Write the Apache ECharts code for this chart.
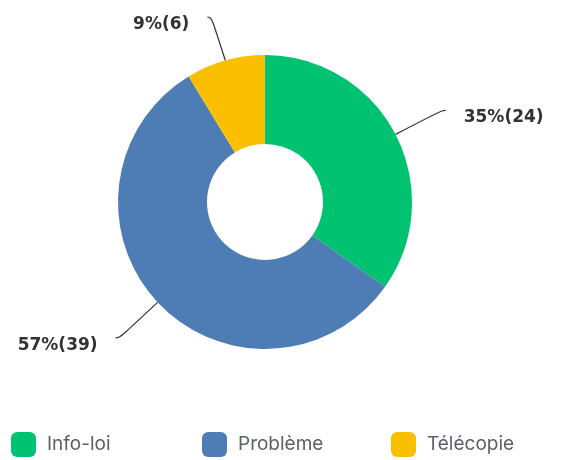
<!DOCTYPE html>
<html><head><meta charset="utf-8">
<script src="https://cdn.jsdelivr.net/npm/echarts@6/dist/echarts.min.js"></script>
<style>html,body{margin:0;padding:0;background:#fff}#c{width:561px;height:460px}</style>
</head><body><div id="c"></div>
<script>
const categories = ['Info-loi', 'Problème', 'Télécopie'];
const values = [24, 39, 6];
const colors = ['#00C271', '#4E7DB6', '#FABF00'];
const total = values.reduce((a, b) => a + b, 0);
const chart = echarts.init(document.getElementById('c'));
const legendLefts = [11, 202, 391];
chart.setOption({
  animation: false,
  color: colors,
  legend: categories.map((name, i) => ({
    data: [name], left: legendLefts[i], top: 432, padding: 0,
    itemWidth: 25, itemHeight: 25, itemGap: 0,
    icon: 'roundRect',
    textStyle: { fontFamily: 'Inter', fontSize: 19, color: '#5c6168', padding: [0, 0, 0, 6] }
  })),
  series: [{
    type: 'pie',
    center: [265, 202],
    radius: [58, 147],
    startAngle: 90,
    clockwise: true,
    data: categories.map((n, i) => ({ name: n, value: values[i] })),
    label: {
      show: true,
      position: 'outside',
      formatter: p => '\n' + Math.round(p.value / total * 100) + '%(' + p.value + ')',
      fontFamily: 'DejaVu Sans', fontWeight: 'bold', fontSize: 17, color: '#333',
      lineHeight: 15,
      distanceToLabelLine: 18
    },
    labelLine: { show: true, length: 52, length2: 4, smooth: 0.6, lineStyle: { color: '#333', width: 1.2 } },
    itemStyle: { borderWidth: 0 }
  }]
});
</script></body></html>
